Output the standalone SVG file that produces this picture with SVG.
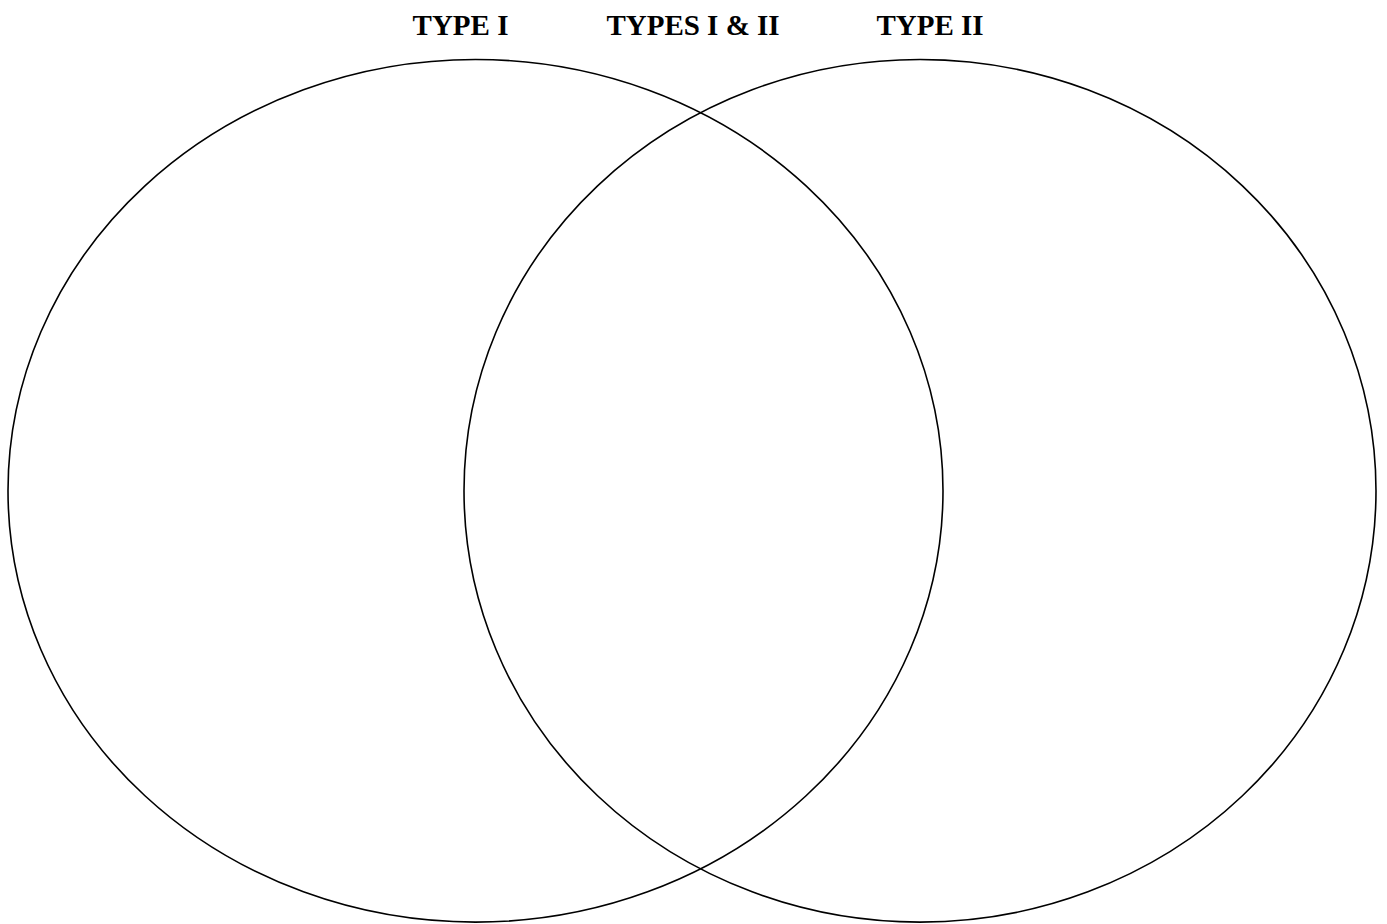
<svg xmlns="http://www.w3.org/2000/svg" width="1387" height="924" viewBox="0 0 1387 924">
<style>
.c{fill:none;stroke:#000;stroke-width:1.6}
.t{font-family:"Liberation Serif","Times New Roman",serif;font-weight:bold;font-size:29px;fill:#000;text-anchor:middle}
</style>
<rect width="1387" height="924" fill="#fff"/>
<g id="type1"><ellipse class="c" cx="475.5" cy="490.8" rx="467.5" ry="431.3"/><text class="t" x="460.5" y="35">TYPE I</text></g>
<g id="type2"><ellipse class="c" cx="920" cy="490.8" rx="456" ry="431.3"/><text class="t" x="930" y="35">TYPE II</text></g>
<g id="both"><text class="t" x="693" y="35">TYPES I &amp; II</text></g>
<g id="connectors"/>
</svg>
